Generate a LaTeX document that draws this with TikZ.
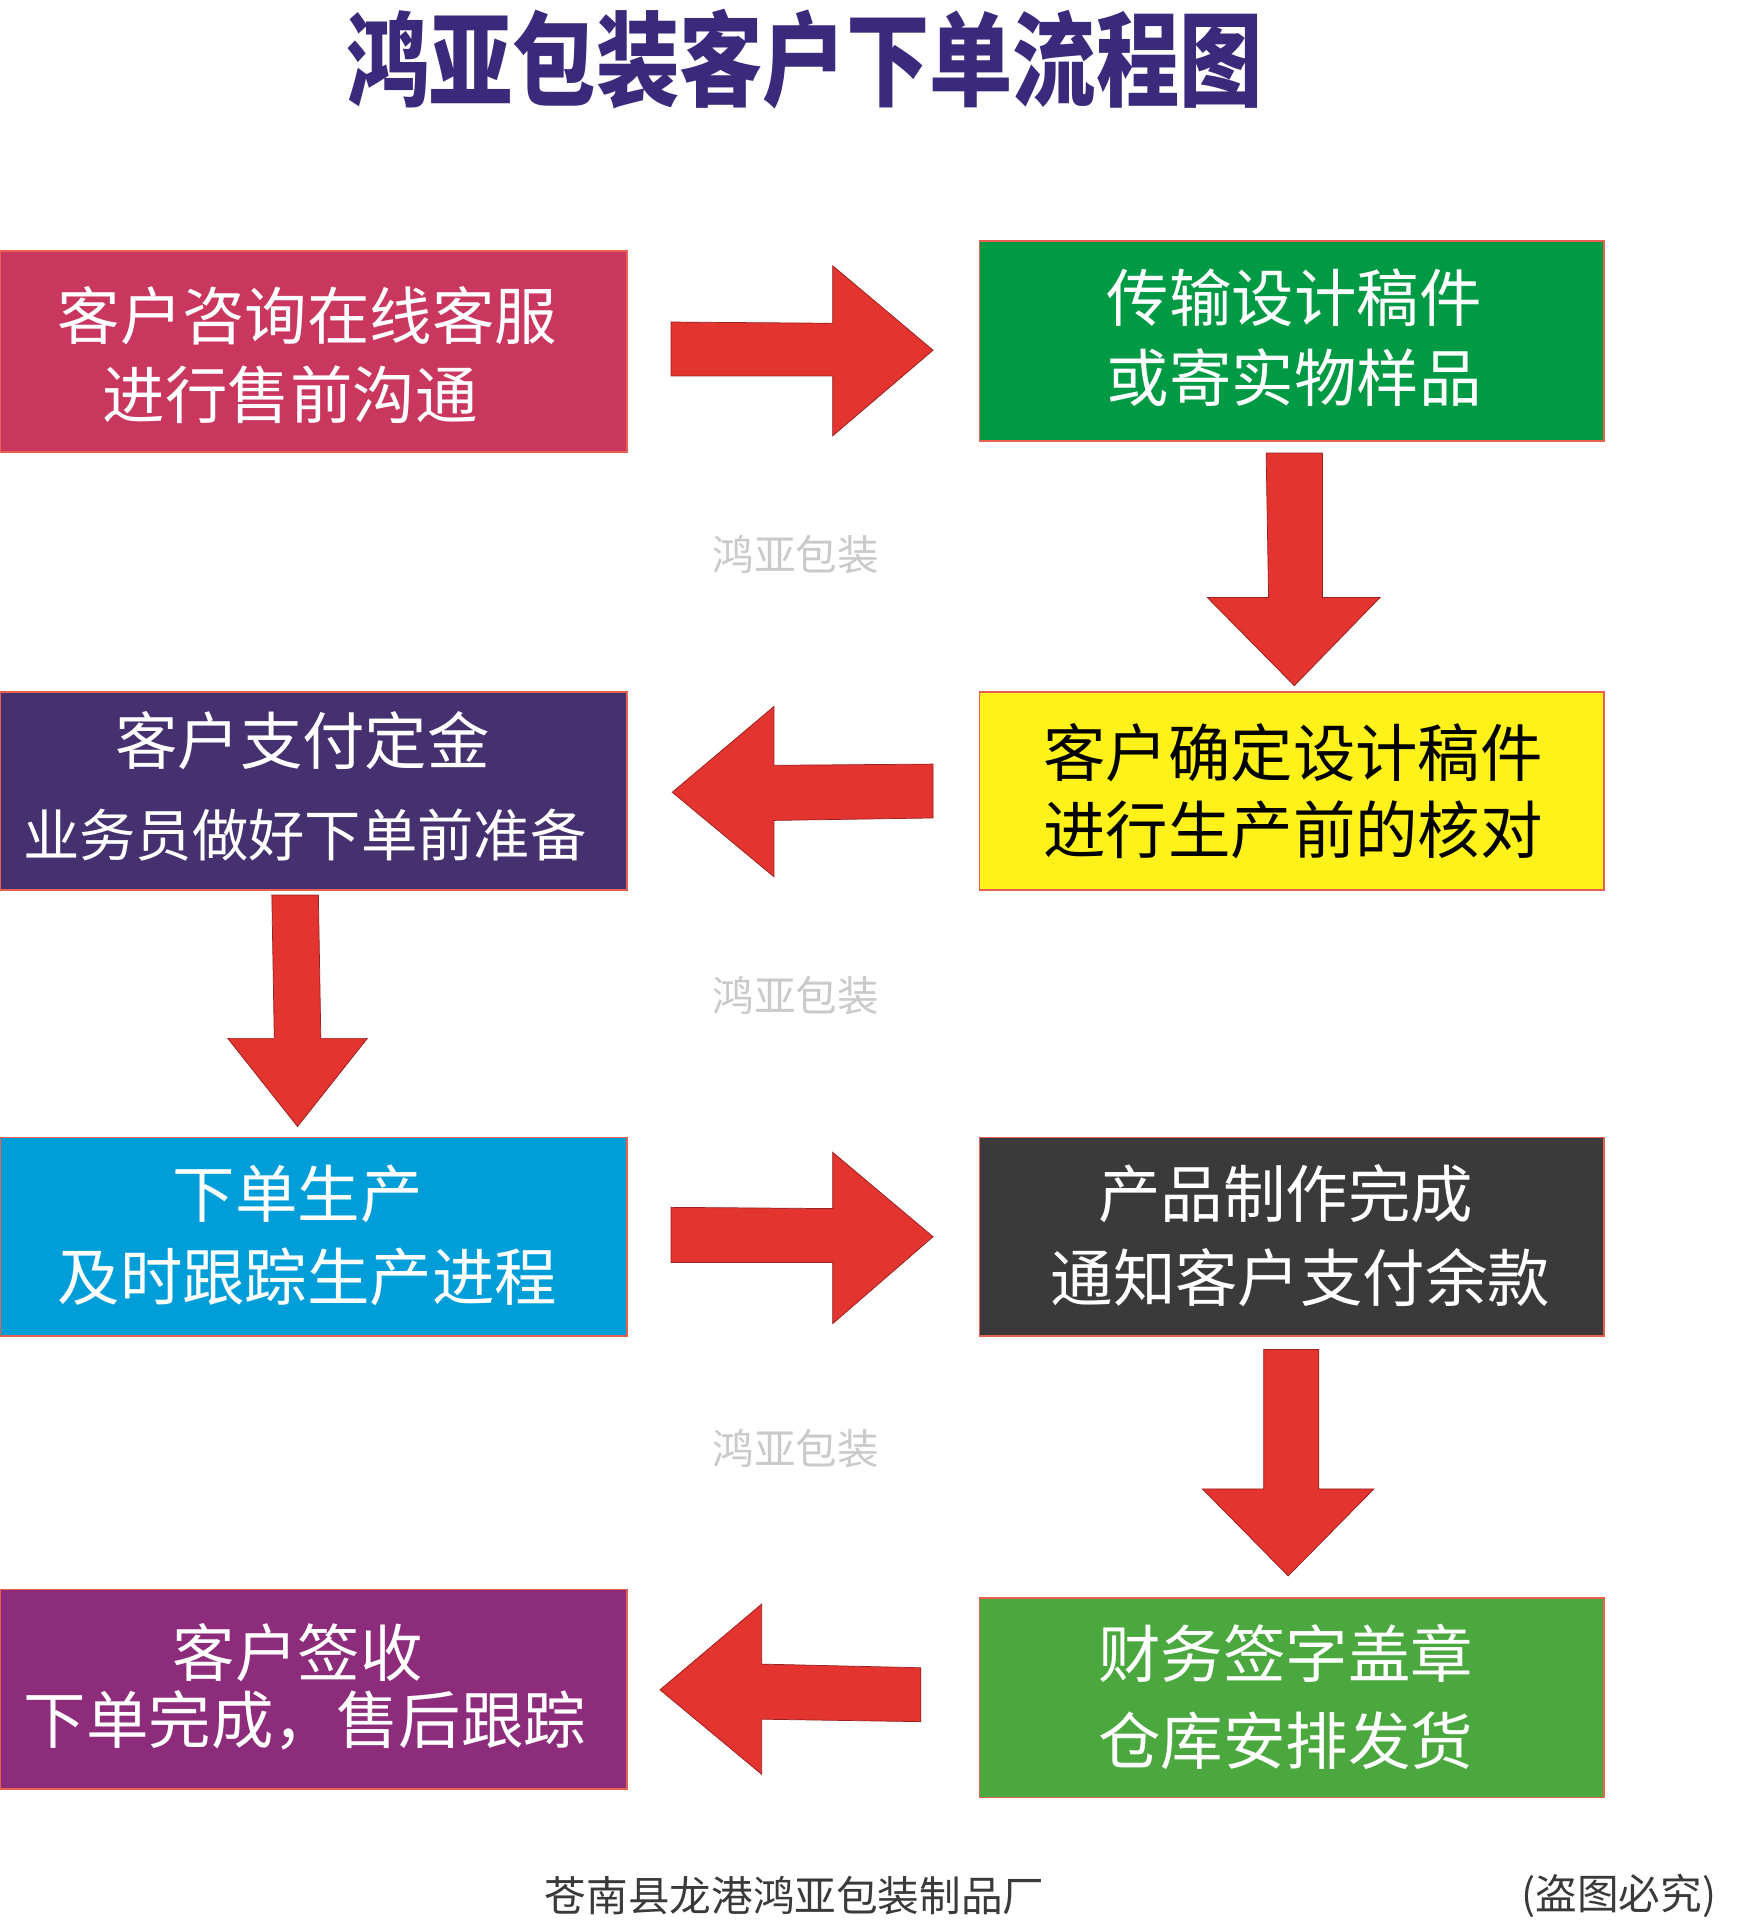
\documentclass[tikz,border=0pt]{standalone}
\usepackage{fontspec}
\newfontfamily\cjk{Noto Sans CJK SC}
\definecolor{titlec}{HTML}{3B2A7C}
\definecolor{cA}{HTML}{C9375F}
\definecolor{cB}{HTML}{009A44}
\definecolor{cC}{HTML}{45316F}
\definecolor{cD}{HTML}{FFF11A}
\definecolor{cE}{HTML}{009ED9}
\definecolor{cF}{HTML}{3B3A3A}
\definecolor{cG}{HTML}{8E2C7C}
\definecolor{cH}{HTML}{4BA83F}
\definecolor{edgec}{HTML}{E8604F}
\definecolor{arrowc}{HTML}{E3342F}
\definecolor{arrowedge}{HTML}{9A2020}
\definecolor{markc}{HTML}{CACACA}
\definecolor{footc}{HTML}{3A3A3A}
\tikzset{
  boxnode/.style={draw=edgec, line width=1.2pt, rectangle, inner sep=0pt, outer sep=0pt, anchor=north west},
  txt/.style={inner sep=0pt, text=white, font=\cjk\fontsize{51pt}{60pt}\selectfont},
  blockarrow/.style={fill=arrowc, draw=arrowedge, line width=0.6pt, line join=miter},
  wmark/.style={inner sep=0pt, text=markc, font=\cjk\fontsize{34pt}{40pt}\selectfont},
  foot/.style={inner sep=0pt, text=footc, font=\cjk\fontsize{34pt}{40pt}\selectfont}
}
\begin{document}
\begin{tikzpicture}[x=1pt, y=-1pt]
\useasboundingbox[fill=white] (0,0) rectangle (1425,1568);
% title
\node[inner sep=0pt, text=titlec, font=\cjk\bfseries\fontsize{84pt}{90pt}\selectfont, xscale=0.81] (title) at (657,48) {鸿亚包装客户下单流程图};
% boxes
\node[boxnode, fill=cA, minimum width=512pt, minimum height=164pt] (b1) at (0,205) {};
\node[boxnode, fill=cB, minimum width=510pt, minimum height=163pt] (b2) at (800,197) {};
\node[boxnode, fill=cC, minimum width=512pt, minimum height=162pt] (b3) at (0,565) {};
\node[boxnode, fill=cD, minimum width=510pt, minimum height=162pt] (b4) at (800,565) {};
\node[boxnode, fill=cE, minimum width=512pt, minimum height=162pt] (b5) at (0,929) {};
\node[boxnode, fill=cF, minimum width=510pt, minimum height=162pt] (b6) at (800,929) {};
\node[boxnode, fill=cG, minimum width=512pt, minimum height=163pt] (b7) at (0,1298) {};
\node[boxnode, fill=cH, minimum width=510pt, minimum height=163pt] (b8) at (800,1305) {};
% box texts
\node[txt] (t1a) at (251,258) {客户咨询在线客服};
\node[txt] (t1b) at (237,322) {进行售前沟通};
\node[txt] (t2a) at (1057,243) {传输设计稿件};
\node[txt] (t2b) at (1057,308) {或寄实物样品};
\node[txt] (t3a) at (247,605) {客户支付定金};
\node[txt, font=\cjk\fontsize{46pt}{54pt}\selectfont] (t3b) at (249,682) {业务员做好下单前准备};
\node[txt, text=black] (t4a) at (1056,615) {客户确定设计稿件};
\node[txt, text=black] (t4b) at (1056,678) {进行生产前的核对};
\node[txt] (t5a) at (243,975) {下单生产};
\node[txt] (t5b) at (251,1043) {及时跟踪生产进程};
\node[txt] (t6a) at (1050,975) {产品制作完成};
\node[txt] (t6b) at (1062,1043) {通知客户支付余款};
\node[txt] (t7a) at (243,1350) {客户签收};
\node[txt] (t7b) at (249,1405) {下单完成，售后跟踪};
\node[txt] (t8a) at (1050,1350) {财务签字盖章};
\node[txt] (t8b) at (1050,1422) {仓库安排发货};
% block arrows
\draw[blockarrow] (548,263) -- (680,264) -- (680,217) -- (762,286) -- (680,356) -- (680,307) -- (548,307) -- cycle;
\draw[blockarrow] (1034,370) -- (1080,370) -- (1080,488) -- (1127,488) -- (1057,560) -- (986,488) -- (1036,488) -- cycle;
\draw[blockarrow] (549,647) -- (632,577) -- (632,625) -- (762,624) -- (762,668) -- (632,670) -- (632,716) -- cycle;
\draw[blockarrow] (222,731) -- (260,731) -- (262,848) -- (300,848) -- (243,920) -- (186,848) -- (224,848) -- cycle;
\draw[blockarrow] (548,986) -- (680,987) -- (680,941) -- (762,1010) -- (680,1081) -- (680,1031) -- (548,1031) -- cycle;
\draw[blockarrow] (1032,1102) -- (1077,1102) -- (1077,1216) -- (1122,1216) -- (1052,1287) -- (982,1216) -- (1032,1216) -- cycle;
\draw[blockarrow] (539,1380) -- (622,1310) -- (622,1359) -- (752,1362) -- (752,1406) -- (622,1404) -- (622,1449) -- cycle;
% watermarks
\node[wmark] (w1) at (650,453) {鸿亚包装};
\node[wmark] (w2) at (650,813) {鸿亚包装};
\node[wmark] (w3) at (650,1183) {鸿亚包装};
% footer
\node[foot] (f1) at (649,1548) {苍南县龙港鸿亚包装制品厂};
\node[foot] (f2) at (1322,1548) {(盗图必究)};
\end{tikzpicture}
\end{document}
